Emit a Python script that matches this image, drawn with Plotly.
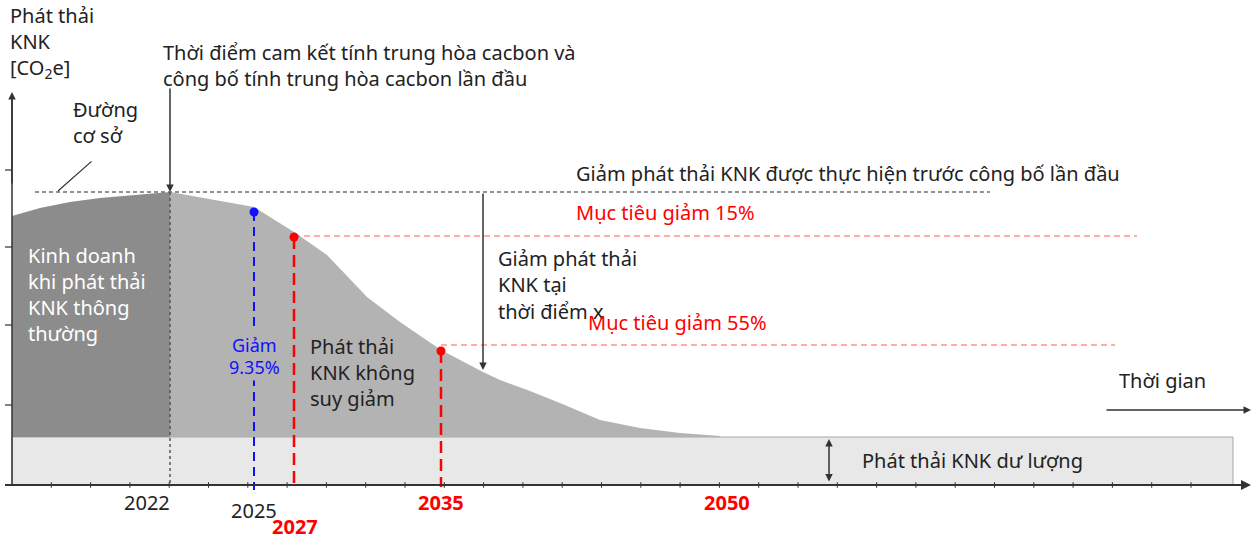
import plotly.graph_objects as go

# ---------------- data (diagram units: x = time position, y = emission level) ----
curve_x = [12, 40, 70, 100, 135, 170, 210, 254, 294, 327, 367, 400, 441, 483, 500, 530, 560, 600, 640, 680, 720]
curve_y = [269, 277, 283, 287, 290, 293, 286, 278, 253, 230, 188, 163, 135, 113, 105, 94, 82, 65, 57, 52, 49]
commit_x = 170            # 2022 commitment point
baseline_level = 293
residual_level = 48
residual_span = [12, 1233]
baseline_span = [35, 990]

year_labels = ["2022", "2025", "2027", "2035", "2050"]
year_pos = [147, 254, 295, 441, 727]
year_label_y = [-17, -25, -41, -17, -17]
year_colors = ["#222222", "#222222", "#ff0000", "#ff0000", "#ff0000"]
year_bold = [False, False, True, True, True]

milestone_x = [254, 294, 441]
milestone_y = [273, 248, 134]
milestone_colors = ["#1010ff", "#ff0000", "#ff0000"]
target_line_y = [249, 140]
target_line_end = [1137, 1115]

y_axis_ticks = [315, 238, 160, 80]
x_minor_ticks = [12 + 39.3 * i for i in range(1, 31)]

FONT = "Noto Sans"
DARK = "#8c8c8c"
LIGHT = "#b3b3b3"
FS = 20

fig = go.Figure()

# residual band
fig.add_trace(go.Scatter(
    x=[residual_span[0], residual_span[1], residual_span[1], residual_span[0], residual_span[0]],
    y=[0, 0, residual_level, residual_level, 0],
    fill="toself", fillcolor="#e8e8e8", line=dict(color="#a8a8a8", width=1),
    mode="lines", hoverinfo="skip", showlegend=False))

# business-as-usual area (before commitment)
i_c = curve_x.index(commit_x)
fig.add_trace(go.Scatter(
    x=curve_x[:i_c + 1] + [commit_x, curve_x[0]],
    y=curve_y[:i_c + 1] + [residual_level, residual_level],
    fill="toself", fillcolor=DARK, line=dict(width=0), mode="lines",
    hoverinfo="skip", showlegend=False))

# unabated emissions area (after commitment)
fig.add_trace(go.Scatter(
    x=curve_x[i_c:] + [curve_x[-1], commit_x],
    y=curve_y[i_c:] + [residual_level, residual_level],
    fill="toself", fillcolor=LIGHT, line=dict(width=0), mode="lines",
    hoverinfo="skip", showlegend=False))

# baseline dotted line
fig.add_trace(go.Scatter(x=baseline_span, y=[baseline_level, baseline_level], mode="lines",
                         line=dict(color="#6e6e6e", width=1.5, dash="4px,3px"),
                         hoverinfo="skip", showlegend=False))
# vertical dotted line at commitment
fig.add_trace(go.Scatter(x=[commit_x, commit_x], y=[baseline_level, 0], mode="lines",
                         line=dict(color="#555555", width=1.5, dash="3px,3px"),
                         hoverinfo="skip", showlegend=False))

# target horizontal lines
for xs, ty, te in zip(milestone_x[1:], target_line_y, target_line_end):
    fig.add_trace(go.Scatter(x=[xs, te], y=[ty, ty], mode="lines",
                             line=dict(color="#ff5a5a", width=1, dash="6px,4px"),
                             hoverinfo="skip", showlegend=False))

# vertical milestone lines
fig.add_trace(go.Scatter(x=[milestone_x[0]] * 2, y=[milestone_y[0], -5], mode="lines",
                         line=dict(color="#1010ff", width=2, dash="9px,6px"),
                         hoverinfo="skip", showlegend=False))
for mx, my in zip(milestone_x[1:], milestone_y[1:]):
    fig.add_trace(go.Scatter(x=[mx, mx], y=[my, -2], mode="lines",
                             line=dict(color="#ff0000", width=2.5, dash="12px,6px"),
                             hoverinfo="skip", showlegend=False))

# milestone dots
fig.add_trace(go.Scatter(x=milestone_x, y=milestone_y, mode="markers",
                         marker=dict(color=milestone_colors, size=9),
                         hoverinfo="skip", showlegend=False))

# axes lines
fig.add_trace(go.Scatter(x=[12, 12], y=[0, 390], mode="lines",
                         line=dict(color="#333333", width=1.5), hoverinfo="skip", showlegend=False))
fig.add_trace(go.Scatter(x=[5, 1245], y=[0, 0], mode="lines",
                         line=dict(color="#333333", width=2), hoverinfo="skip", showlegend=False))
for ty in y_axis_ticks:
    fig.add_trace(go.Scatter(x=[5, 12], y=[ty, ty], mode="lines",
                             line=dict(color="#333333", width=1.2), hoverinfo="skip", showlegend=False))
fig.add_trace(go.Scatter(x=x_minor_ticks, y=[0] * len(x_minor_ticks), mode="markers",
                         marker=dict(symbol="line-ns", size=4, line=dict(color="#333333", width=1)),
                         hoverinfo="skip", showlegend=False))

ann = []


def arrow(x0, y0, x1, y1, color="#333333", width=1.5, side="end", head=2, size=1.0):
    ann.append(dict(x=x1, y=y1, ax=x0, ay=y0, xref="x", yref="y", axref="x", ayref="y",
                    showarrow=True, arrowhead=head, arrowsize=size, arrowwidth=width,
                    arrowcolor=color, arrowside=side, text=""))


# axes arrowheads
arrow(12, 300, 12, 393)
arrow(1150, 0, 1251, 0, width=2)
# commitment arrow
arrow(commit_x, 398, commit_x, baseline_level)
# reduction at time x arrow
arrow(483, baseline_level, 483, 115)
# time arrow
arrow(1105, 75, 1251, 75)
# residual double arrow
arrow(829, 2, 829, residual_level - 2, side="end+start")
# baseline pointer
ann.append(dict(x=58, y=294, ax=93, ay=325, xref="x", yref="y", axref="x", ayref="y",
                showarrow=True, arrowhead=0, arrowwidth=1.2, arrowcolor="#333333", text=""))


def text(lines, x, y0, step=26.5, color="#222222", size=FS, anchor="left", bold=False, bg=None):
    for k, line in enumerate(lines):
        t = f"<b>{line}</b>" if bold else line
        d = dict(x=x, y=y0 - k * step, xref="x", yref="y", text=t, showarrow=False,
                 xanchor=anchor, yanchor="middle",
                 font=dict(family=FONT, size=size, color=color))
        if bg:
            d["bgcolor"] = bg
        ann.append(d)


text(["Phát thải", "KNK", "[CO<sub>2</sub>e]"], 8, 470)
text(["Thời điểm cam kết tính trung hòa cacbon và", "công bố tính trung hòa cacbon lần đầu"], 161, 433)
text(["Đường", "cơ sở"], 71, 376)
text(["Giảm phát thải KNK được thực hiện trước công bố lần đầu"], 574, 312)
text(["Mục tiêu giảm 15%"], 574, 273, color="#ff0000")
text(["Giảm phát thải", "KNK tại", "thời điểm x"], 496, 227)
text(["Mục tiêu giảm 55%"], 586, 163, color="#ff0000")
text(["Kinh doanh", "khi phát thải", "KNK thông", "thường"], 26, 230, step=26, color="#ffffff")
text(["Giảm", "9.35%"], 254, 140, step=22, color="#1010ff", size=18, anchor="center", bg=LIGHT)
text(["Phát thải", "KNK không", "suy giảm"], 308, 139, step=26)
text(["Thời gian"], 1117, 105)
text(["Phát thải KNK dư lượng"], 860, 25)
for lab, xp, yp, col, b in zip(year_labels, year_pos, year_label_y, year_colors, year_bold):
    text([lab], xp, yp, color=col, anchor="center", bold=b, size=FS)

fig.update_layout(
    width=1251, height=539,
    margin=dict(l=0, r=0, t=0, b=0),
    paper_bgcolor="white", plot_bgcolor="white",
    xaxis=dict(range=[0, 1251], visible=False, fixedrange=True),
    yaxis=dict(range=[-54, 485], visible=False, fixedrange=True),
    annotations=ann,
    showlegend=False,
)

fig.write_html("out.html", config={"displayModeBar": False},
               post_script="document.body.style.margin='0';document.body.style.overflow='hidden';")
